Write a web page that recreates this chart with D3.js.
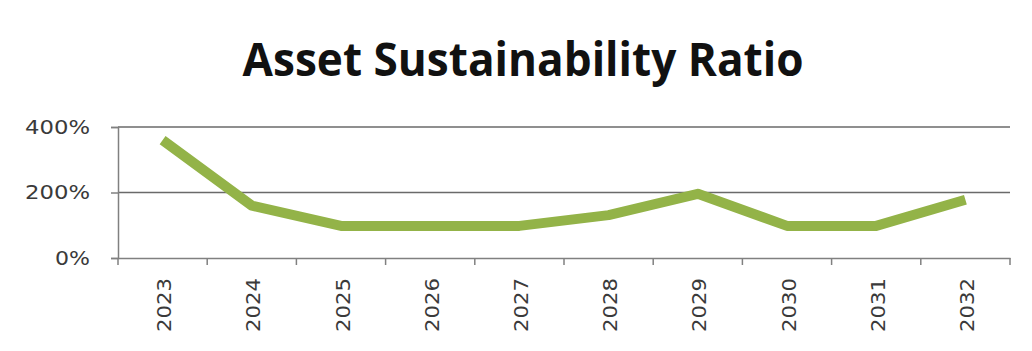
<!DOCTYPE html>
<html>
<head>
<meta charset="utf-8">
<script src="https://cdn.jsdelivr.net/npm/d3@7/dist/d3.min.js"></script>
<style>
  html, body { margin: 0; padding: 0; background: #ffffff; }
  svg { display: block; }
</style>
</head>
<body>
<svg id="chart" width="1032" height="351"></svg>
<script>
// Asset sustainability ratio by year (percent)
const years = ["2023", "2024", "2025", "2026", "2027", "2028", "2029", "2030", "2031", "2032"];
const ratios = [360, 160, 98, 98, 98, 131, 196, 98, 98, 178];
const yTicks = [0, 200, 400];
const titleText = "Asset Sustainability Ratio";

const svg = d3.select("#chart");
const margin = { left: 118, right: 22, top: 127, bottom: 93 };
const width = 1032, height = 351;
const plotW = width - margin.left - margin.right;
const plotH = height - margin.top - margin.bottom;

const x = d3.scaleBand().domain(years).range([margin.left, margin.left + plotW]).padding(0);
const y = d3.scaleLinear().domain([0, 400]).range([margin.top + plotH, margin.top]);

const labelFont = "'DejaVu Sans', Verdana, sans-serif";

// Title
svg.append("text")
  .attr("x", 523).attr("y", 76)
  .attr("text-anchor", "middle")
  .style("font-family", "'Open Sans', sans-serif")
  .style("font-weight", 700)
  .style("font-size", "46px")
  .attr("textLength", 561)
  .attr("lengthAdjust", "spacingAndGlyphs")
  .attr("fill", "#111")
  .text(titleText);

// Horizontal gridlines
svg.append("g")
  .selectAll("line")
  .data(yTicks.filter(d => d > 0))
  .join("line")
  .attr("x1", margin.left).attr("x2", margin.left + plotW)
  .attr("y1", d => y(d)).attr("y2", d => y(d))
  .attr("stroke", "#6a6a6a").attr("stroke-width", 1.6);

// Y axis
const yAxis = svg.append("g")
  .attr("transform", `translate(${margin.left},0)`)
  .call(d3.axisLeft(y).tickValues(yTicks).tickFormat(d => d + "%").tickSize(7).tickPadding(21));
yAxis.select(".domain").attr("stroke", "#808080").attr("stroke-width", 1.5);
yAxis.selectAll(".tick line").attr("stroke", "#808080").attr("stroke-width", 1.5);
yAxis.selectAll(".tick text")
  .style("font-family", labelFont)
  .style("font-size", "19px")
  .attr("textLength", d => d === 0 ? 35 : 65)
  .attr("lengthAdjust", "spacingAndGlyphs")
  .attr("fill", "#3a3a3a");

// X axis with ticks on category boundaries
const xAxis = svg.append("g")
  .attr("transform", `translate(0,${margin.top + plotH})`)
  .call(d3.axisBottom(x).tickSize(0).tickPadding(0));
xAxis.select(".domain").attr("stroke", "#808080").attr("stroke-width", 1.5);
xAxis.selectAll(".tick text")
  .attr("transform", "rotate(-90)")
  .attr("text-anchor", "end")
  .attr("x", -20).attr("y", 2).attr("dy", "0.35em")
  .style("font-family", labelFont)
  .style("font-size", "19px")
  .attr("textLength", 54)
  .attr("lengthAdjust", "spacingAndGlyphs")
  .attr("fill", "#3a3a3a");

const boundaries = years.map(d => x(d)).concat([x(years[years.length - 1]) + x.bandwidth()]);
svg.append("g")
  .selectAll("line")
  .data(boundaries)
  .join("line")
  .attr("x1", d => d).attr("x2", d => d)
  .attr("y1", margin.top + plotH).attr("y2", margin.top + plotH + 7)
  .attr("stroke", "#808080").attr("stroke-width", 1.5);

// Ratio line
const line = d3.line()
  .x((d, i) => x(years[i]) + x.bandwidth() / 2)
  .y(d => y(d));

svg.append("path")
  .datum(ratios)
  .attr("d", line)
  .attr("fill", "none")
  .attr("stroke", "#93b348")
  .attr("stroke-width", 10)
  .attr("stroke-linejoin", "round")
  .attr("stroke-linecap", "butt");
</script>
</body>
</html>
